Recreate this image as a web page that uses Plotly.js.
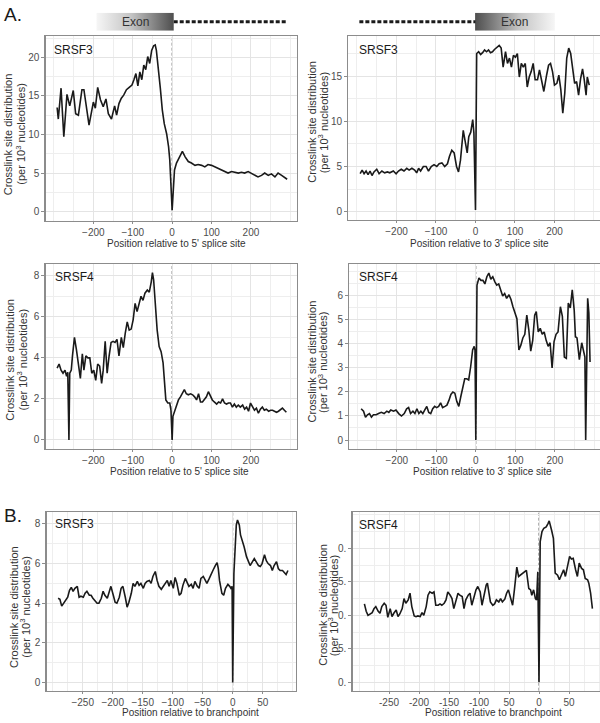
<!DOCTYPE html>
<html><head><meta charset="utf-8">
<script src="https://cdn.plot.ly/plotly-3.0.1.min.js"></script>
<style>html,body{margin:0;padding:0;overflow:hidden;background:#fff}#chart{width:604px;height:723px}</style>
</head><body><div id="chart"></div>
<script>
// ---------------- data ----------------
const panelNames = ['SRSF3', 'SRSF3', 'SRSF4', 'SRSF4', 'SRSF3', 'SRSF4'];
const xTitles = ["Position relative to 5' splice site", "Position relative to 3' splice site",
                 "Position relative to 5' splice site", "Position relative to 3' splice site",
                 "Position relative to branchpoint", "Position relative to branchpoint"];
const yTitleLine1 = 'Crosslink site distribution';
const yTitleLine2 = '(per 10<sup>3</sup> nucleotides)';
const exonLabel = 'Exon';
const sectionLabels = ['A.', 'B.'];

// A: SRSF3, 5' splice site
const a1X = [-292,-289,-282,-275,-267,-260,-251,-245,-238,-229,-224,-218,-211,-200,-195,-189,-182,-175,-168,-162,-154,-146,-141,-135,-129,-123,-116,-109,-102,-97,-92,-87,-82,-77,-72,-67,-62,-57,-52,-47,-43,-40,-35,-30,-25,-20,-14,-9,-6,-3,0,3,6,11,20,26,33,41,49,58,66,75,83,91,100,108,117,125,134,142,151,159,168,176,184,193,201,210,218,227,235,244,252,261,269,278,286,292];
const a1Y = [13.5,12.0,16.0,9.7,15.2,13.7,15.7,12.7,12.5,15.8,15.8,13.6,11.2,14.2,13.4,16.1,14.5,13.6,14.6,12.7,12.0,13.7,12.5,14.0,14.7,15.1,15.8,16.1,16.4,17.1,17.9,16.3,18.1,17.1,19.0,18.4,20.1,19.2,20.9,21.5,21.6,20.9,18.8,16.0,13.2,11.4,10.1,8.4,6.7,3.2,0.2,2.8,5.4,6.3,7.1,7.8,7.1,6.5,6.3,6.0,6.1,6.0,5.8,6.1,6.0,5.8,5.6,5.4,5.2,5.0,5.2,5.1,5.0,5.1,5.0,5.2,5.0,4.7,4.5,4.7,5.0,4.7,4.9,4.5,5.0,4.7,4.4,4.2];

// A: SRSF3, 3' splice site
const a2X = [-292,-287,-282,-277,-272,-267,-262,-257,-250,-244,-237,-230,-223,-217,-208,-201,-195,-188,-181,-174,-168,-161,-154,-149,-144,-139,-132,-125,-119,-112,-105,-98,-92,-85,-78,-71,-66,-60,-54,-48,-43,-38,-31,-26,-21,-17,-12,-7,-4,0,3,8,13,18,23,28,33,38,43,48,54,60,65,70,76,81,86,91,96,101,106,111,116,121,126,131,136,141,146,151,157,162,167,173,180,185,190,195,200,206,211,216,221,226,231,236,241,246,251,256,261,266,271,275,280,283,288];
const a2Y = [4.2,4.6,4.2,4.5,4.1,4.5,4.0,4.4,4.7,4.2,4.5,4.3,4.4,4.3,4.5,4.2,4.5,4.7,4.5,4.8,4.6,4.8,4.6,4.3,4.8,4.5,5.0,5.0,4.5,5.0,5.2,5.0,5.3,5.4,5.0,5.3,6.1,6.8,6.5,5.0,4.4,5.7,9.0,7.9,6.5,8.3,8.8,10.2,8.7,0.2,17.5,17.7,17.4,17.6,17.9,17.7,17.9,17.6,17.7,17.95,18.2,18.4,18.1,16.0,17.7,16.4,17.0,16.0,17.3,17.1,17.5,14.9,16.4,16.0,16.4,13.8,14.9,15.5,16.4,14.6,14.6,15.7,14.6,13.3,15.1,16.2,16.4,15.5,14.0,14.2,15.1,13.5,10.9,13.1,17.0,18.1,17.5,16.0,14.2,14.4,12.9,14.7,15.8,14.7,12.9,14.9,14.0];

// A: SRSF4, 5' splice site
const a3X = [-292,-287,-282,-277,-272,-268,-265,-262,-260,-256,-253,-248,-243,-238,-233,-228,-224,-219,-214,-209,-204,-199,-194,-189,-184,-179,-175,-170,-165,-160,-155,-150,-145,-140,-135,-129,-124,-119,-114,-109,-104,-99,-94,-89,-84,-79,-74,-69,-63,-58,-53,-50,-47,-43,-38,-33,-28,-23,-19,-16,-11,-6,-3,0,2,6,11,16,21,26,31,36,41,47,52,57,62,67,72,77,82,87,92,97,102,107,113,118,123,128,133,138,143,148,153,158,163,168,173,179,184,189,194,199,204,209,214,219,224,229,234,239,245,250,255,260,265,270,275,280,285,290];
const a3Y = [3.5,3.7,3.4,3.25,3.4,3.1,3.3,0,3.25,3.4,4.1,5.0,4.4,3.65,3.0,4.2,3.4,4.1,4.0,4.0,3.25,3.4,2.9,3.7,3.6,2.75,3.4,4.8,3.25,4.1,4.75,4.8,4.75,4.9,4.1,5.0,4.5,5.2,5.75,5.35,5.4,5.85,6.65,6.25,6.65,7.0,6.8,7.15,7.3,7.2,7.7,8.15,7.8,6.5,5.35,4.55,4.3,3.75,2.75,1.95,1.8,1.8,1.45,0,1.15,1.4,1.7,1.95,2.1,2.25,2.45,2.25,2.2,2.25,2.2,2.1,1.95,2.25,1.85,1.85,1.95,2.1,2.35,2.1,1.95,1.85,1.75,1.85,1.8,2.0,1.8,1.75,1.8,1.8,1.6,1.75,1.6,1.7,1.6,1.7,1.5,1.6,1.4,1.8,1.6,1.45,1.55,1.3,1.5,1.6,1.45,1.5,1.4,1.45,1.45,1.4,1.35,1.4,1.5,1.55,1.45,1.35];

// A: SRSF4, 3' splice site
const a4X = [-290,-284,-279,-274,-269,-264,-259,-252,-246,-239,-232,-225,-220,-215,-208,-202,-195,-188,-181,-175,-170,-165,-159,-154,-149,-144,-139,-134,-129,-124,-119,-114,-109,-104,-99,-94,-89,-84,-78,-73,-68,-63,-58,-53,-48,-43,-38,-33,-28,-23,-18,-13,-8,-4,-2,0,3,8,13,18,23,28,33,38,43,48,53,58,63,68,73,78,84,89,94,99,104,109,114,119,124,129,134,139,144,149,153,158,163,168,173,178,183,188,193,198,203,208,214,219,224,229,234,239,244,249,252,256,262,268,273,276,278,281,283,286,289];
const a4Y = [1.3,1.2,0.95,1.05,1.1,0.95,1.05,1.05,1.1,1.15,1.1,1.2,1.15,1.25,1.2,1.25,1.1,1.0,1.1,1.3,1.35,1.1,1.2,1.1,1.3,1.1,1.2,1.1,1.25,1.4,1.15,1.1,1.3,1.4,1.35,1.4,1.55,1.35,1.4,1.45,1.65,1.9,2.0,1.95,1.6,1.4,1.8,2.2,2.55,2.55,2.5,3.05,3.75,3.9,3.75,0,6.45,6.75,6.65,6.65,6.5,6.8,6.95,6.7,6.8,6.6,6.45,6.5,6.2,6.0,6.1,5.9,6.05,5.85,5.55,5.3,5.05,3.75,3.95,4.25,4.4,5.2,4.6,3.7,4.15,5.2,5.35,4.5,4.65,4.4,4.5,4.15,3.9,4.05,3.0,4.1,4.4,4.5,5.55,5.15,3.45,3.4,5.7,5.5,6.25,5.4,4.3,4.25,3.35,4.05,3.7,3.45,0,5.15,5.9,5.3,3.25];

// B: SRSF3, branchpoint
const b1X = [-291,-288,-285,-282,-278,-275,-272,-269,-266,-263,-259,-256,-253,-249,-246,-243,-239,-236,-233,-229,-226,-223,-219,-216,-213,-209,-206,-203,-199,-196,-193,-189,-186,-183,-179,-176,-173,-169,-166,-163,-159,-156,-153,-149,-146,-143,-139,-136,-133,-129,-126,-123,-119,-116,-113,-109,-106,-103,-99,-96,-93,-89,-86,-83,-79,-76,-73,-69,-66,-63,-59,-56,-53,-49,-46,-43,-39,-36,-33,-29,-26,-24,-22,-18,-15,-12,-8,-5,-3,-1,0,2,4,6,8,11,13,16,19,23,26,29,33,36,39,43,46,49,53,56,59,63,66,69,73,76,79,83,86,89,92];
const b1Y = [4.25,4.2,3.85,4.0,4.2,4.3,4.65,4.8,4.6,4.75,4.85,4.3,4.35,4.3,4.5,4.6,4.4,4.4,4.25,4.1,4.0,4.0,4.25,4.6,4.4,4.25,4.5,4.85,4.4,4.05,4.0,4.3,4.75,4.85,4.3,3.8,4.05,4.5,5.0,4.85,5.1,4.9,5.0,4.75,5.0,5.1,5.15,5.0,5.35,5.6,5.15,4.85,4.7,4.85,5.0,5.15,4.85,5.15,4.75,5.3,5.0,4.4,4.5,4.9,5.25,5.0,4.85,4.95,4.75,5.1,4.85,4.75,5.25,5.35,5.15,5.0,5.25,5.5,5.65,5.9,6.05,5.75,5.15,4.5,4.4,4.75,4.95,4.85,4.75,4.85,0,5.5,6.5,7.95,8.2,7.95,7.45,7.2,6.85,6.35,6.1,5.9,6.1,6.25,6.1,5.9,5.85,6.0,6.45,6.15,6.0,5.9,5.65,5.9,6.1,5.75,5.65,5.65,5.55,5.45,5.65];

// B: SRSF4, branchpoint
const b2X = [-291,-288,-285,-282,-278,-275,-272,-268,-265,-262,-258,-255,-252,-248,-245,-242,-238,-235,-232,-228,-225,-222,-218,-215,-212,-208,-205,-202,-198,-195,-192,-188,-185,-182,-178,-175,-172,-168,-165,-162,-158,-155,-152,-148,-145,-142,-138,-135,-132,-128,-125,-122,-118,-115,-112,-108,-105,-102,-98,-95,-92,-88,-86,-84,-81,-77,-74,-71,-67,-64,-61,-57,-54,-51,-47,-44,-41,-37,-34,-31,-27,-24,-21,-17,-14,-12,-9,-6,-4,-2,-1,0,2,5,8,12,15,17,21,24,27,31,34,37,41,44,47,51,54,57,61,64,67,71,74,77,81,83,86,89];
const b2Y = [5.85,5.3,5.0,5.1,5.2,5.5,5.65,5.3,5.15,5.65,5.9,5.75,4.85,5.5,4.9,5.15,5.4,4.9,5.1,5.5,6.25,5.9,6.15,6.65,5.65,4.95,4.9,4.95,4.9,5.2,5.0,5.65,6.5,6.75,6.65,6.75,5.75,5.75,5.85,5.75,5.9,6.15,6.75,6.5,6.25,5.5,6.3,6.65,6.5,6.4,5.5,6.15,6.5,6.65,5.75,6.5,6.9,7.15,6.75,5.75,6.5,7.25,7.4,6.9,6.0,5.75,5.85,6.15,6.0,6.25,6.0,6.2,6.65,6.9,6.15,5.75,6.9,8.6,7.9,8.0,8.15,8.2,8.35,7.0,6.9,6.5,6.9,6.25,6.15,8.25,5.65,0,10.5,11.25,11.5,11.6,11.85,12.05,11.35,10.75,8.15,8.0,7.65,8.0,8.4,7.9,8.5,9.4,9.2,9.25,8.4,7.9,8.9,8.5,8.4,7.75,7.65,7.4,6.65,5.5];

// tick values / labels
const siteTicks = [-200, -100, 0, 100, 200];
const siteMinor = [-300, -250, -150, -50, 50, 150, 250, 300];
const bpTicks = [-250, -200, -150, -100, -50, 0, 50];
const bpTickTextB2 = ['-250', '-200', '-150', '-100', '50', '0', '50'];
const bpMinor = [-300, -275, -225, -175, -125, -75, -25, 25, 75, 100];
const a1YTicks = [0, 5, 10, 15, 20], a1YMinor = [2.5, 7.5, 12.5, 17.5, 22.5];
const a2YTicks = [0, 5, 10, 15], a2YMinor = [2.5, 7.5, 12.5, 17.5];
const a3YTicks = [0, 2, 4, 6, 8], a3YMinor = [1, 3, 5, 7];
const a4YTicks = [0, 1, 2, 3, 4, 5, 6], a4YMinor = [0.5, 1.5, 2.5, 3.5, 4.5, 5.5, 6.5, 7];
const b1YTicks = [0, 2, 4, 6, 8], b1YMinor = [1, 3, 5, 7];
const b2YTicks = [0, 2.5, 5, 7.5, 10], b2YTickText = ['0.', '5.', '0.', '5.', '0.'];
const b2YMinor = [1.25, 3.75, 6.25, 8.75, 11.25, 12.5];

// gene-structure header spans (in position units)
const exonSpan5 = [-192, 4], intronSpan5 = [4, 292];
const exonSpan3 = [-1, 201], intronSpan3 = [-294, 0];

// ---------------- layout ----------------
const FONT = 'Liberation Sans, Arial, Helvetica, sans-serif';
const W = 604, H = 723;
const fx = v => v / W, fy = v => 1 - v / H;

const panels = [
  {x: a1X, y: a1Y, box: [45.7, 36, 297, 220.7], xr: [-321, 317], yr: [-1.17, 22.76], xt: siteTicks, xm: siteMinor, yt: a1YTicks, ym: a1YMinor,
   lab: [51.7, 50], yt1: [8.3, 134], yt2: [20.7, 134], xtl: [176.5, 243]},
  {x: a2X, y: a2Y, box: [348.3, 36, 601.5, 220], xr: [-322, 319], yr: [-0.92, 19.44], xt: siteTicks, xm: siteMinor, yt: a2YTicks, ym: a2YMinor,
   lab: [356.7, 50], yt1: [311.7, 122], yt2: [323.3, 122], xtl: [479, 243]},
  {x: a3X, y: a3Y, box: [45.7, 264, 297, 449], xr: [-321, 317], yr: [-0.44, 8.57], xt: siteTicks, xm: siteMinor, yt: a3YTicks, ym: a3YMinor,
   lab: [52.7, 276.7], yt1: [10, 359.7], yt2: [21.7, 359.7], xtl: [179, 471]},
  {x: a4X, y: a4Y, box: [349.3, 264, 601.5, 449], xr: [-320, 318], yr: [-0.375, 7.33], xt: siteTicks, xm: siteMinor, yt: a4YTicks, ym: a4YMinor,
   lab: [357.3, 276.7], yt1: [311.7, 361.7], yt2: [322.3, 361.7], xtl: [482.5, 471]},
  {x: b1X, y: b1Y, box: [46.7, 512.3, 295.7, 690.7], xr: [-310, 105], yr: [-0.42, 8.59], xt: bpTicks, xm: bpMinor, yt: b1YTicks, ym: b1YMinor,
   lab: [52.7, 524.3], yt1: [13.3, 606.7], yt2: [25, 606.7], xtl: [190.5, 712]},
  {x: b2X, y: b2Y, box: [352.7, 512.3, 602, 690.7], xr: [-310.5, 105], yr: [-0.63, 12.69], xt: bpTicks, xtt: bpTickTextB2, xm: bpMinor, yt: b2YTicks, ytt: b2YTickText, ym: b2YMinor,
   lab: [357.3, 525], yt1: [322.7, 605], yt2: [333.3, 605], xtl: [493, 712]}
];

function axisBase() {
  return {showline: true, mirror: true, linecolor: '#8c8c8c', linewidth: 1.3,
    ticks: 'outside', ticklen: 3, tickwidth: 1, tickcolor: '#8c8c8c',
    tickfont: {family: FONT, size: 10, color: '#4d4d4d'},
    showgrid: true, gridcolor: '#e4e4e4', gridwidth: 1, zeroline: false, fixedrange: true,
    tickmode: 'array'};
}

const traces = [];
const layout = {
  width: W, height: H, margin: {l: 0, r: 0, t: 0, b: 0},
  paper_bgcolor: '#ffffff', plot_bgcolor: '#ffffff', showlegend: false,
  font: {family: FONT, color: '#333333'},
  annotations: [], shapes: []
};

panels.forEach((p, i) => {
  const n = i + 1, s = n === 1 ? '' : String(n);
  const b = p.box;
  layout['xaxis' + s] = Object.assign(axisBase(), {
    domain: [fx(b[0]), fx(b[2])], range: p.xr, anchor: 'y' + s, ticklen: 2,
    tickvals: p.xt, ticktext: p.xtt,
    minor: {tickmode: 'array', tickvals: p.xm, showgrid: true, gridcolor: '#eeeeee', ticks: ''}
  });
  layout['yaxis' + s] = Object.assign(axisBase(), {
    domain: [fy(b[3]), fy(b[1])], range: p.yr, anchor: 'x' + s,
    tickvals: p.yt, ticktext: p.ytt,
    minor: {tickmode: 'array', tickvals: p.ym, showgrid: true, gridcolor: '#eeeeee', ticks: ''}
  });
  layout.shapes.push({type: 'line', xref: 'x' + s, yref: 'y' + s + ' domain', x0: 0, x1: 0, y0: 0, y1: 1,
    layer: 'below', line: {color: '#666666', width: 1, dash: '3px,2px'}});
  traces.push({type: 'scatter', mode: 'lines', x: p.x, y: p.y, xaxis: 'x' + s, yaxis: 'y' + s,
    line: {color: '#1a1a1a', width: 1.6}, hoverinfo: 'skip', cliponaxis: true});
  layout.annotations.push(
    {xref: 'paper', yref: 'paper', x: fx(p.lab[0]), y: fy(p.lab[1]), xanchor: 'left', yanchor: 'middle',
     text: panelNames[i], showarrow: false, font: {family: FONT, size: 12, color: '#1a1a1a'}},
    {xref: 'paper', yref: 'paper', x: fx(p.yt1[0]), y: fy(p.yt1[1]), xanchor: 'center', yanchor: 'middle', textangle: -90,
     text: yTitleLine1, showarrow: false, font: {family: FONT, size: 11, color: '#333333'}},
    {xref: 'paper', yref: 'paper', x: fx(p.yt2[0]), y: fy(p.yt2[1]), xanchor: 'center', yanchor: 'middle', textangle: -90,
     text: yTitleLine2, showarrow: false, font: {family: FONT, size: 11, color: '#333333'}},
    {xref: 'paper', yref: 'paper', x: fx(p.xtl[0]), y: fy(p.xtl[1]), xanchor: 'center', yanchor: 'middle',
     text: xTitles[i], showarrow: false, font: {family: FONT, size: 10, color: '#333333'}}
  );
});

// section labels
layout.annotations.push(
  {xref: 'paper', yref: 'paper', x: fx(2), y: fy(14), xanchor: 'left', yanchor: 'middle', text: sectionLabels[0],
   showarrow: false, font: {family: FONT, size: 19, color: '#1a1a1a'}},
  {xref: 'paper', yref: 'paper', x: fx(2), y: fy(515), xanchor: 'left', yanchor: 'middle', text: sectionLabels[1],
   showarrow: false, font: {family: FONT, size: 19, color: '#1a1a1a'}}
);

// gene-structure headers (own axes sharing panel x scales)
const headers = [
  {s: '7', src: panels[0], exon: exonSpan5, intron: intronSpan5, grad: [[0, '#f6f6f6'], [0.45, '#c4c4c4'], [1, '#4e4e4e']]},
  {s: '8', src: panels[1], exon: exonSpan3, intron: intronSpan3, grad: [[0, '#4e4e4e'], [0.55, '#c4c4c4'], [1, '#f6f6f6']]}
];
headers.forEach(h => {
  const b = h.src.box;
  layout['xaxis' + h.s] = {domain: [fx(b[0]), fx(b[2])], range: h.src.xr, anchor: 'y' + h.s, visible: false, fixedrange: true};
  layout['yaxis' + h.s] = {domain: [fy(30.7), fy(12.7)], range: [0, 1], anchor: 'x' + h.s, visible: false, fixedrange: true};
  traces.push({type: 'scatter', mode: 'lines', xaxis: 'x' + h.s, yaxis: 'y' + h.s,
    x: [h.exon[0], h.exon[1], h.exon[1], h.exon[0], h.exon[0]], y: [0, 0, 1, 1, 0],
    fill: 'toself', fillcolor: '#9a9a9a', line: {width: 0, color: 'rgba(0,0,0,0)'},
    fillgradient: {type: 'horizontal', colorscale: h.grad}, hoverinfo: 'skip'});
  traces.push({type: 'scatter', mode: 'lines', xaxis: 'x' + h.s, yaxis: 'y' + h.s,
    x: h.intron, y: [0.5, 0.5], line: {color: '#1a1a1a', width: 3, dash: '4px,2px'}, hoverinfo: 'skip'});
  layout.annotations.push({xref: 'x' + h.s, yref: 'y' + h.s, x: (h.exon[0] + h.exon[1]) / 2, y: 0.5,
    xanchor: 'center', yanchor: 'middle', text: exonLabel, showarrow: false,
    font: {family: FONT, size: 12, color: '#333333'}});
});

Plotly.newPlot('chart', traces, layout, {staticPlot: true, displayModeBar: false});
</script></body></html>
